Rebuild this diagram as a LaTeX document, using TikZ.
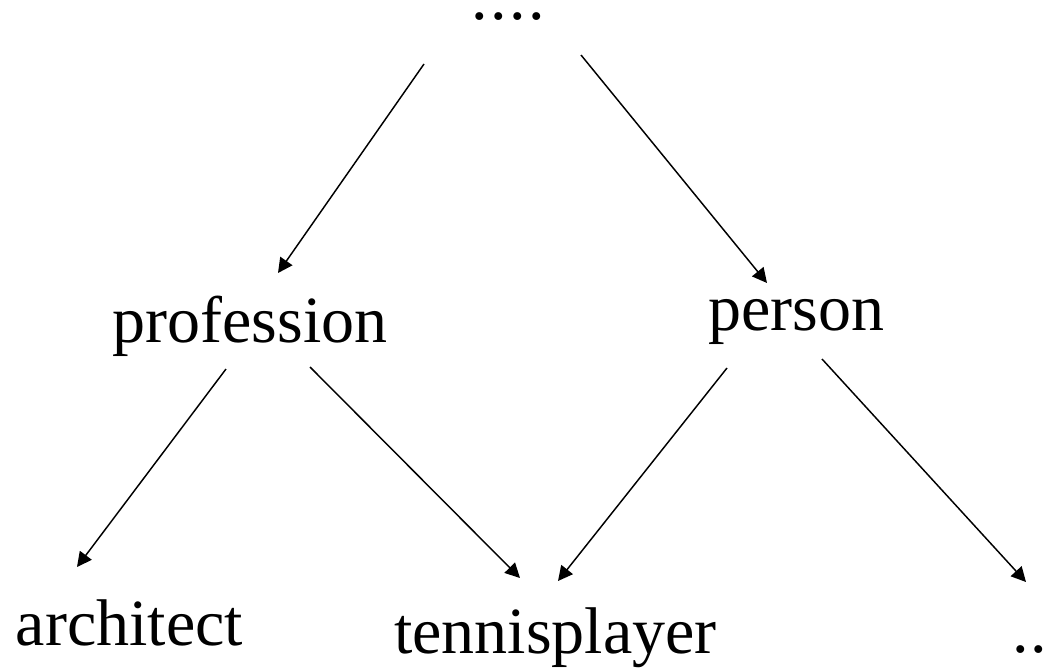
\documentclass[tikz,border=0pt]{standalone}
\usepackage{fontspec}
\setmainfont{Liberation Serif}
\usetikzlibrary{arrows.meta}
\begin{document}
\begin{tikzpicture}[x=0.75pt,y=-0.75pt,
  word/.style={anchor=base,inner sep=0pt,font=\fontsize{49.5}{59}\selectfont},
  link/.style={line width=1.1pt,-{Triangle[length=11pt,width=11pt]}}]
  \useasboundingbox (0,0) rectangle (1051,671);
  % concept labels
  \node[word] (top)    at (508.5,20)  {.\kern1.9pt.\kern1.9pt.\kern1.9pt.};
  \node[word] (prof)   at (250,342)   {profession};
  \node[word] (pers)   at (796.5,330) {person};
  \node[word] (arch)   at (129.5,645) {architect};
  \node[word] (tennis) at (555.5,653) {tennisplayer};
  \node[word] (more)   at (1030,652)  {.\kern1.1pt.};
  % arrow end points
  \coordinate (t1) at (424,64);   \coordinate (p1) at (278,273);
  \coordinate (t2) at (581,55);   \coordinate (q1) at (767,283);
  \coordinate (p2) at (226,369);  \coordinate (a1) at (77,567);
  \coordinate (p3) at (310,367);  \coordinate (n1) at (520,578);
  \coordinate (q2) at (727,368);  \coordinate (n2) at (558,581);
  \coordinate (q3) at (822,359);  \coordinate (m1) at (1026,582);
  % links
  \draw[link] (t1) -- (p1);
  \draw[link] (t2) -- (q1);
  \draw[link] (p2) -- (a1);
  \draw[link] (p3) -- (n1);
  \draw[link] (q2) -- (n2);
  \draw[link] (q3) -- (m1);
\end{tikzpicture}
\end{document}
